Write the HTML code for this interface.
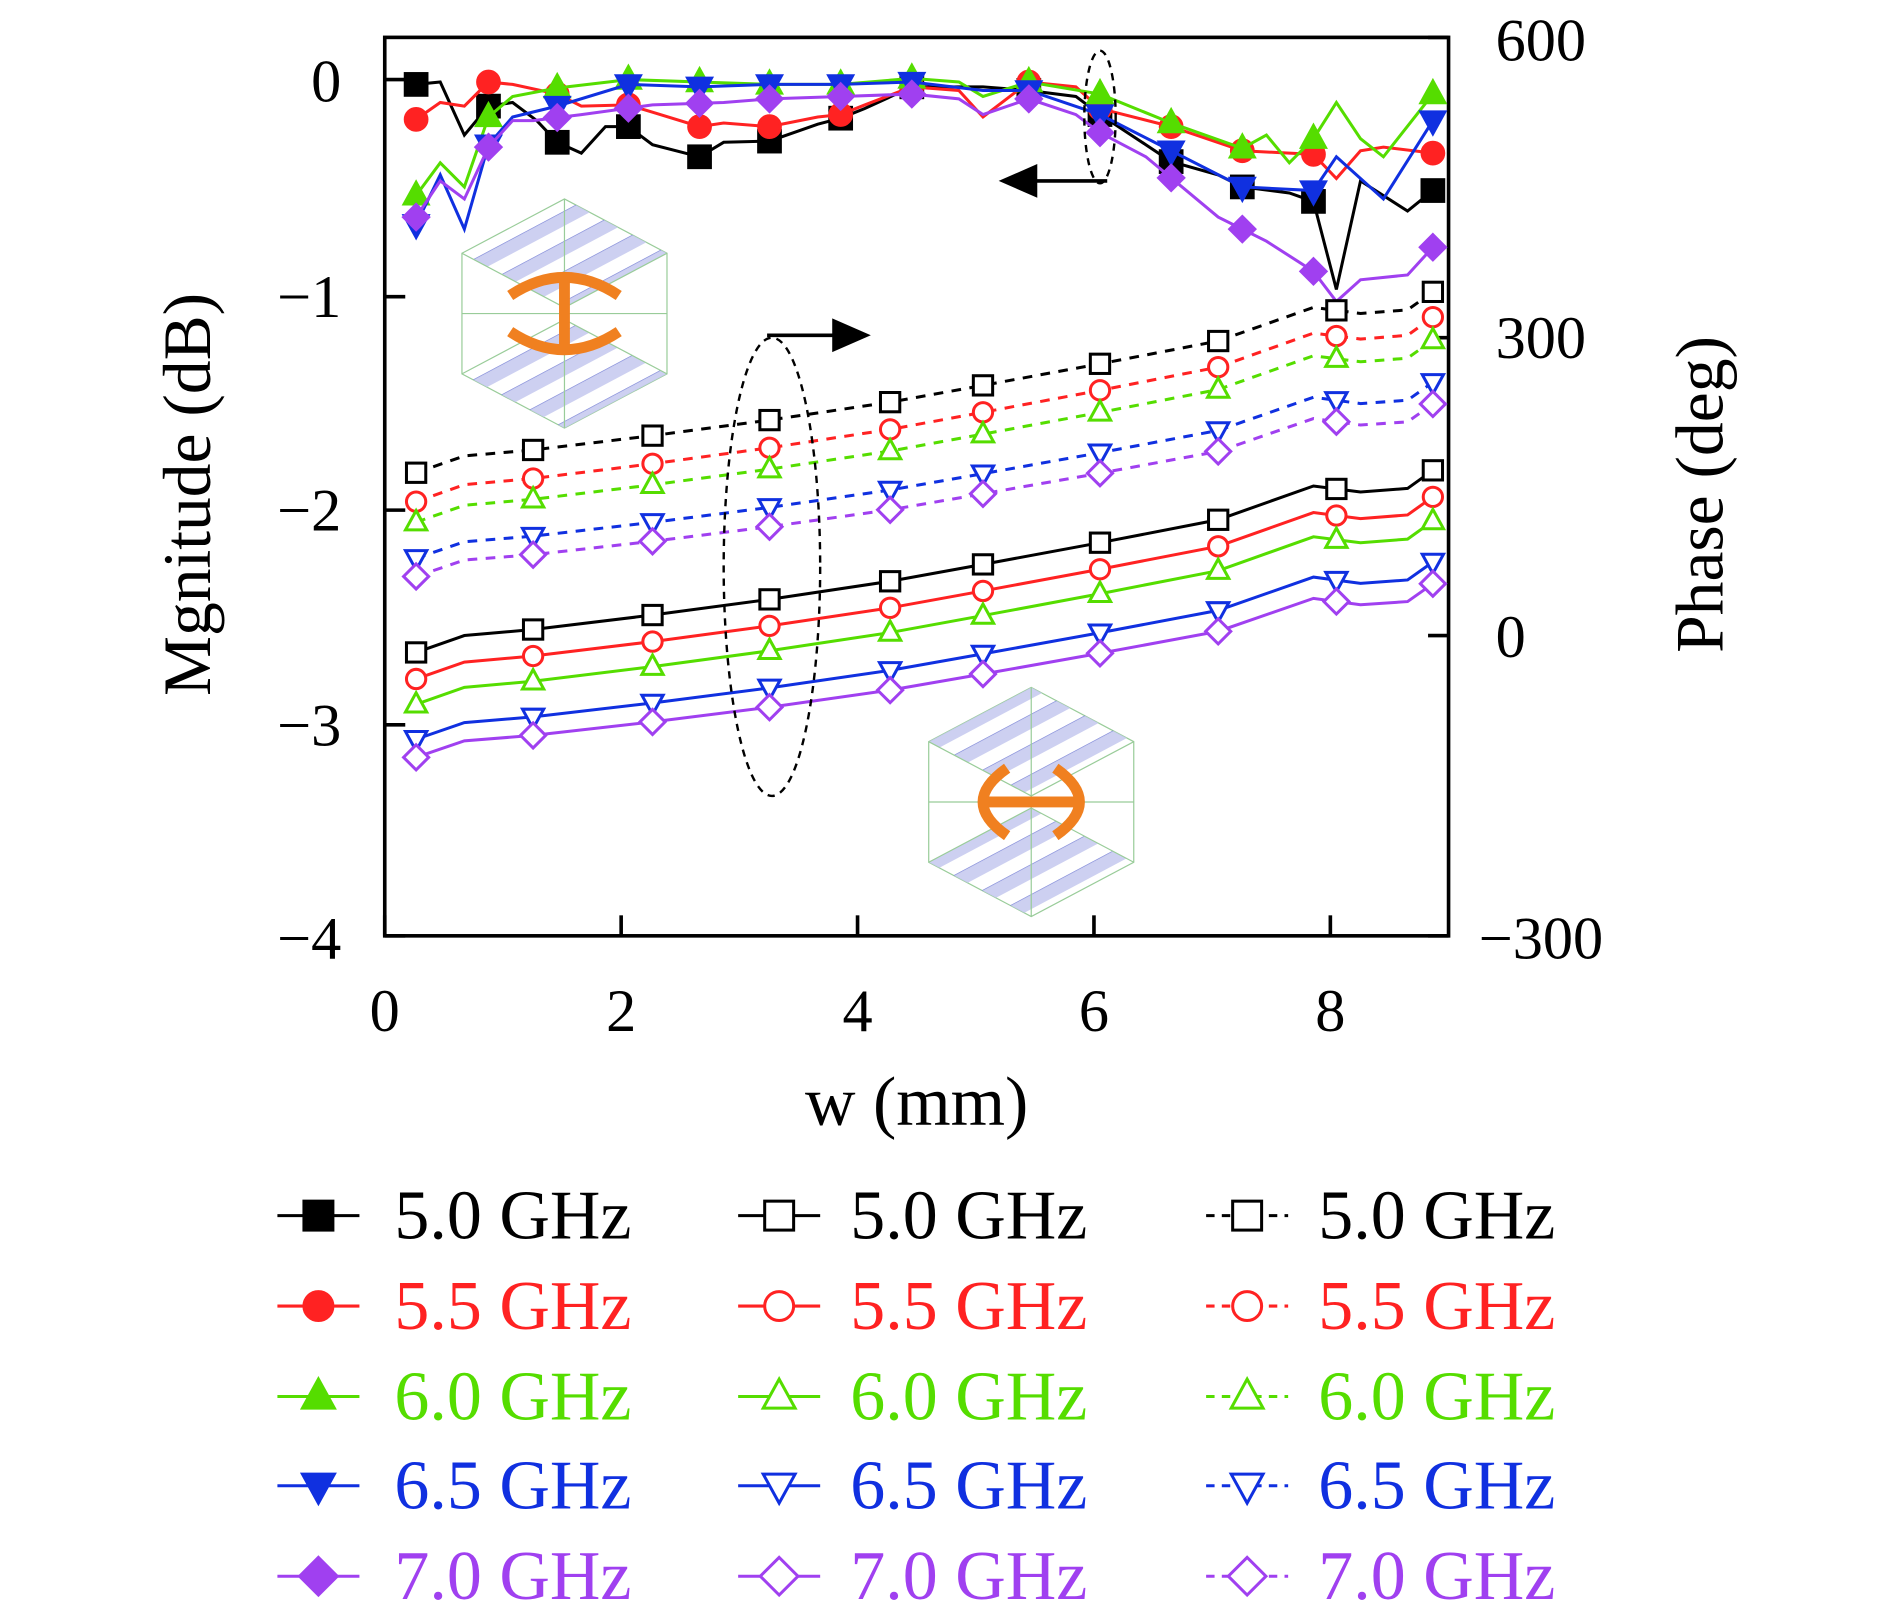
<!DOCTYPE html>
<html><head><meta charset="utf-8"><style>
html,body{margin:0;padding:0;background:#fff}
svg{display:block}
text{font-family:"Liberation Serif",serif}
</style></head><body>
<svg id="s" width="1890" height="1616" viewBox="0 0 1567 1340" preserveAspectRatio="none" xmlns="http://www.w3.org/2000/svg">
<defs>
<pattern id="st" width="22" height="22" patternUnits="userSpaceOnUse" patternTransform="rotate(-28)">
<rect width="22" height="11" fill="#c4c8ee"/><line x1="0" y1="0" x2="22" y2="0" stroke="#6670d0" stroke-width="1"/>
</pattern>
</defs>
<rect x="319" y="31" width="882" height="745" fill="none" stroke="#000" stroke-width="3"/>
<g id="g"></g>
<g font-size="50" fill="#000">
<text x="283" y="84" text-anchor="end">0</text>
<text x="283" y="263" text-anchor="end">−1</text>
<text x="283" y="440" text-anchor="end">−2</text>
<text x="283" y="618" text-anchor="end">−3</text>
<text x="283" y="795" text-anchor="end">−4</text>
<text x="1240" y="50">600</text>
<text x="1240" y="297">300</text>
<text x="1240" y="545">0</text>
<text x="1226" y="795">−300</text>
<text x="319" y="855" text-anchor="middle">0</text>
<text x="515" y="855" text-anchor="middle">2</text>
<text x="711" y="855" text-anchor="middle">4</text>
<text x="907" y="855" text-anchor="middle">6</text>
<text x="1103" y="855" text-anchor="middle">8</text>
<text x="760" y="933" text-anchor="middle" font-size="58">w (mm)</text>
<text transform="translate(174,410) rotate(-90)" text-anchor="middle" font-size="56">Mgnitude (dB)</text>
<text transform="translate(1428,410) rotate(-90)" text-anchor="middle" font-size="56">Phase (deg)</text>
</g>
</svg>
<script>
const NS="http://www.w3.org/2000/svg",g=document.getElementById('g');
function el(t,a,p){const e=document.createElementNS(NS,t);for(const k in a)e.setAttribute(k,a[k]);(p||g).appendChild(e);return e;}
[66,246,423,601,776].forEach(y=>{el('line',{x1:319,x2:336,y1:y,y2:y,stroke:'#000','stroke-width':3});});
[31,280,527,776].forEach(y=>{el('line',{x1:1184,x2:1201,y1:y,y2:y,stroke:'#000','stroke-width':3});});
[319,515,711,907,1103].forEach(x=>{el('line',{x1:x,x2:x,y1:759,y2:776,stroke:'#000','stroke-width':3});});
const C=['#000','#f22','#5d0','#1030e0','#a040f0'];
function mk(type,x,y,c,fill,r){r=r||10;const a={stroke:c,'stroke-width':2.5,fill:fill?c:'#fff'};
 if(type==0)el('rect',Object.assign({x:x-r,y:y-r,width:2*r,height:2*r},a));
 else if(type==1)el('circle',Object.assign({cx:x,cy:y,r:r},a));
 else if(type==2)el('polygon',Object.assign({points:`${x},${y-r*1.2} ${x-r*1.1},${y+r*0.8} ${x+r*1.1},${y+r*0.8}`},a));
 else if(type==3)el('polygon',Object.assign({points:`${x},${y+r*1.2} ${x-r*1.1},${y-r*0.8} ${x+r*1.1},${y-r*0.8}`},a));
 else el('polygon',Object.assign({points:`${x},${y-r*1.3} ${x+r*1.3},${y} ${x},${y+r*1.3} ${x-r*1.3},${y}`},a));}
function interp(p,x){for(let i=0;i<p.length-1;i++)if(x>=p[i][0]&&x<=p[i+1][0]){const t=(x-p[i][0])/(p[i+1][0]-p[i][0]);return p[i][1]+t*(p[i+1][1]-p[i][1]);}return p[p.length-1][1];}
function line(p,c,dash){el('polyline',{points:p.map(q=>q.join(',')).join(' '),fill:'none',stroke:c,'stroke-width':2.5,'stroke-dasharray':dash?'8,7':'none'});}
// insets first (behind lines)
function inset(cx,cy,vert){const s=el('g',{});
 el('polygon',{points:`${cx-85},${cy-50} ${cx},${cy-95} ${cx+85},${cy-50} ${cx+85},${cy+50} ${cx},${cy+95} ${cx-85},${cy+50}`,fill:'#fff',stroke:'#9c9','stroke-width':1},s);
 el('polygon',{points:`${cx-85},${cy-50} ${cx},${cy-95} ${cx+85},${cy-50} ${cx},${cy-5}`,fill:'url(#st)',opacity:.85},s);
 el('polygon',{points:`${cx-85},${cy+50} ${cx},${cy+5} ${cx+85},${cy+50} ${cx},${cy+95}`,fill:'url(#st)',opacity:.85},s);
 el('line',{x1:cx-85,y1:cy,x2:cx+85,y2:cy,stroke:'#9c9'},s);el('line',{x1:cx,y1:cy-95,x2:cx,y2:cy+95,stroke:'#9c9'},s);
 el('polyline',{points:`${cx-85},${cy-50} ${cx},${cy-5} ${cx+85},${cy-50}`,fill:'none',stroke:'#9c9'},s);
 el('polyline',{points:`${cx-85},${cy+50} ${cx},${cy+5} ${cx+85},${cy+50}`,fill:'none',stroke:'#9c9'},s);
 if(vert){el('path',{d:`M${cx-45},${cy-15} Q${cx},${cy-45} ${cx+45},${cy-15} M${cx-45},${cy+15} Q${cx},${cy+45} ${cx+45},${cy+15} M${cx},${cy-30} L${cx},${cy+30}`,fill:'none',stroke:'#f08020','stroke-width':9},s);}
 else{el('path',{d:`M${cx-20},${cy-28} Q${cx-60},${cy} ${cx-20},${cy+28} M${cx+20},${cy-28} Q${cx+60},${cy} ${cx+20},${cy+28} M${cx-40},${cy} L${cx+40},${cy}`,fill:'none',stroke:'#f08020','stroke-width':9},s);}}
inset(468,260,true);inset(855,665,false);
const mag=[
[[345,70],[365,68],[385,112],[405,88],[425,85],[445,100],[462,118],[482,127],[502,105],[521,105],[541,120],[580,130],[600,118],[638,117],[678,103],[697,98],[717,90],[756,72],[776,72],[815,72],[853,75],[892,80],[912,95],[950,120],[971,134],[1010,145],[1030,155],[1069,160],[1089,167],[1108,240],[1128,150],[1167,175],[1188,158]],
[[345,99],[365,85],[385,88],[405,68],[425,70],[462,78],[482,88],[521,87],[541,93],[580,105],[600,102],[638,105],[678,97],[697,95],[717,87],[756,72],[795,75],[815,97],[853,68],[892,72],[912,90],[971,105],[1030,125],[1089,128],[1108,148],[1128,125],[1147,122],[1188,127]],
[[345,162],[365,135],[385,155],[405,97],[425,80],[462,73],[521,66],[580,68],[638,70],[697,70],[756,65],[795,68],[815,80],[853,68],[912,78],[971,102],[1030,123],[1050,112],[1069,135],[1089,115],[1108,85],[1128,115],[1147,130],[1188,78]],
[[345,186],[365,145],[385,190],[405,120],[425,97],[462,88],[521,70],[580,72],[638,70],[697,70],[756,68],[815,75],[853,75],[912,95],[971,125],[1030,155],[1089,158],[1108,130],[1128,148],[1147,165],[1188,100]],
[[345,180],[365,150],[385,165],[405,122],[425,100],[442,100],[482,95],[541,87],[600,85],[638,82],[697,80],[756,78],[795,82],[815,95],[853,82],[892,95],[912,110],[950,130],[1010,180],[1050,200],[1089,225],[1108,250],[1128,232],[1167,228],[1188,205]]];
const mx=[345,405,462,521,580,638,697,756,853,912,971,1030,1089,1188];
mag.forEach((p,i)=>{line(p,C[i]);mx.forEach(x=>mk(i,x,interp(p,x),C[i],true,i==4?8:9));});
const base=[[345,541],[385,527],[442,522],[541,510],[638,497],[738,482],[815,468],[912,450],[1010,431],[1089,403],[1128,408],[1167,405],[1188,390]];
const px=[345,442,541,638,738,815,912,1010,1108,1188];
function shifted(b,s0,s1){return b.map(q=>{const t=(q[0]-345)/(1188-345);return [q[0],q[1]+s0+t*(s1-s0)];});}
[[0,0],[22,22],[43,42],[72,76],[87,94]].forEach((o,i)=>{const p=shifted(base,o[0],o[1]);line(p,C[i]);px.forEach(x=>mk(i,x,interp(p,x),C[i],false,8));});
[[392,242],[416,263],[433,282],[463,317],[478,335]].forEach((o,i)=>{const p=shifted(base,o[0]-541,o[1]-390);line(p,C[i],true);px.forEach(x=>mk(i,x,interp(p,x),C[i],false,8));});
el('ellipse',{cx:640,cy:470,rx:40,ry:190,fill:'none',stroke:'#000','stroke-width':2,'stroke-dasharray':'6,5'});
el('line',{x1:636,y1:278,x2:695,y2:278,stroke:'#000','stroke-width':3});
el('polygon',{points:'690,264 722,278 690,292',fill:'#000'});
el('ellipse',{cx:912,cy:97,rx:13,ry:55,fill:'none',stroke:'#000','stroke-width':2,'stroke-dasharray':'6,5'});
el('line',{x1:918,y1:150,x2:855,y2:150,stroke:'#000','stroke-width':3});
el('polygon',{points:'860,136 828,150 860,164',fill:'#000'});
const rows=[1008,1083,1158,1232,1307],lab=['5.0 GHz','5.5 GHz','6.0 GHz','6.5 GHz','7.0 GHz'];
rows.forEach((y,i)=>{[[230,264,327,true,false],[612,646,705,false,false],[1000,1034,1093,false,true]].forEach(c=>{
 el('line',{x1:c[0],x2:c[0]+68,y1:y,y2:y,stroke:C[i],'stroke-width':2.5,'stroke-dasharray':c[4]?'7,6':'none'});
 mk(i,c[1],y,C[i],c[3],12);
 const t=el('text',{x:c[2],y:y+19,'font-size':58,fill:C[i]});t.textContent=lab[i];});});
</script>
</body></html>
